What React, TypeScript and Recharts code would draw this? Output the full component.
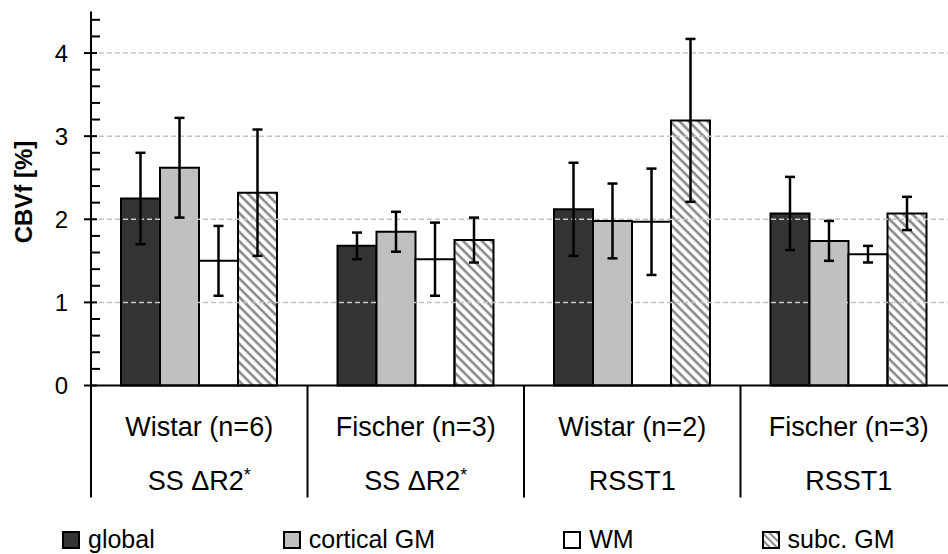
import {
  Bar,
  BarChart,
  ErrorBar,
  Label,
  Legend,
  ReferenceLine,
  XAxis,
  YAxis,
} from "recharts";

const FONT = "'Liberation Sans', Arial, sans-serif";

// category labels (two rows under the axis)
const strains = ["Wistar (n=6)", "Fischer (n=3)", "Wistar (n=2)", "Fischer (n=3)"];
const methods = ["SS ΔR2", "SS ΔR2", "RSST1", "RSST1"];
const methodStars = ["*", "*", "", ""];

// means and error (SD) per region
const globalMean = [2.25, 1.68, 2.12, 2.07];
const globalSd = [0.55, 0.16, 0.56, 0.44];
const corticalMean = [2.62, 1.85, 1.98, 1.74];
const corticalSd = [0.6, 0.24, 0.45, 0.24];
const wmMean = [1.5, 1.52, 1.97, 1.58];
const wmSd = [0.42, 0.44, 0.64, 0.1];
const subcMean = [2.32, 1.75, 3.19, 2.07];
const subcSd = [0.76, 0.27, 0.98, 0.2];

const yTicks = [
  0, 0.2, 0.4, 0.6, 0.8, 1, 1.2, 1.4, 1.6, 1.8, 2, 2.2, 2.4, 2.6, 2.8, 3, 3.2,
  3.4, 3.6, 3.8, 4, 4.2, 4.4,
];
const gridValues = [1, 2, 3, 4];

const series = [
  { key: "global", name: "global", fill: "#333333" },
  { key: "cortical", name: "cortical GM", fill: "#c0c0c0" },
  { key: "wm", name: "WM", fill: "#ffffff" },
  { key: "subc", name: "subc. GM", fill: "url(#hatch)" },
];

const data = strains.map((s, i) => ({
  id: i,
  strain: s,
  global: globalMean[i],
  globalErr: globalSd[i],
  cortical: corticalMean[i],
  corticalErr: corticalSd[i],
  wm: wmMean[i],
  wmErr: wmSd[i],
  subc: subcMean[i],
  subcErr: subcSd[i],
}));

const CHART_W = 980;
const MARGIN = { top: 11.5, right: 23, left: 0, bottom: 56.5 };
const Y_AXIS_W = 91;
const BAND = (CHART_W - MARGIN.left - MARGIN.right - Y_AXIS_W) / strains.length;

const YTick = (props: any) => {
  const { x, y, payload } = props;
  const v = payload.value;
  const major = Math.abs(v - Math.round(v)) < 1e-6;
  if (!major) {
    return <line x1={x} y1={y} x2={x + 9} y2={y} stroke="#000" strokeWidth={2} />;
  }
  return (
    <g>
      <line x1={x - 7} y1={y} x2={x + 6} y2={y} stroke="#000" strokeWidth={2} />
      <text x={x - 23} y={y + 8.5} textAnchor="end" fontSize={24} fontFamily={FONT} fill="#000">
        {Math.round(v)}
      </text>
    </g>
  );
};

const XTick = (props: any) => {
  const { x, y, payload } = props;
  const i = payload.value;
  const left = x - BAND / 2;
  return (
    <g>
      <line x1={left} y1={y} x2={left} y2={y + 112} stroke="#000" strokeWidth={2} />
      <text x={x} y={y + 50} textAnchor="middle" fontSize={27} fontFamily={FONT} fill="#000">
        {strains[i]}
      </text>
      <text x={x} y={y + 104} textAnchor="middle" fontSize={27} fontFamily={FONT} fill="#000">
        {methods[i]}
        {methodStars[i] && (
          <tspan fontSize={18} dy={-9}>
            {methodStars[i]}
          </tspan>
        )}
      </text>
    </g>
  );
};

const renderYLabel = () => (
  <text
    x={32}
    y={192}
    transform="rotate(-90 32 192)"
    textAnchor="middle"
    fontSize={24}
    fontWeight="bold"
    fontFamily={FONT}
    fill="#000"
  >
    CBVf [%]
  </text>
);

const renderLegend = () => (
  <div style={{ display: "flex", alignItems: "center", gap: 128, fontFamily: FONT, fontSize: 25 }}>
    {series.map((s) => (
      <div key={s.key} style={{ display: "flex", alignItems: "center" }}>
        <svg width={18} height={18} style={{ marginRight: 8 }}>
          <defs>
            <pattern id="hatchLegend" patternUnits="userSpaceOnUse" width={5} height={5} patternTransform="rotate(45)">
              <rect width={5} height={2} fill="#8c8c8c" />
            </pattern>
          </defs>
          <rect
            x={1}
            y={1}
            width={16}
            height={16}
            fill={s.key === "subc" ? "url(#hatchLegend)" : s.fill}
            stroke="#000"
            strokeWidth={2}
          />
        </svg>
        <span style={{ color: "#000" }}>{s.name}</span>
      </div>
    ))}
  </div>
);

export default function App() {
  return (
    <div
      style={{
        position: "absolute",
        left: 0,
        top: 0,
        width: 948,
        height: 554,
        overflow: "hidden",
        background: "#fff",
      }}
    >
      <BarChart
        width={CHART_W}
        height={554}
        data={data}
        margin={MARGIN}
        barCategoryGap={30}
        barGap={0}
      >
        <defs>
          <pattern id="hatch" patternUnits="userSpaceOnUse" width={6.6} height={6.6} patternTransform="rotate(45)">
            <rect width={6.6} height={2.6} fill="#8c8c8c" />
          </pattern>
        </defs>
        {gridValues.map((v) => (
          <ReferenceLine key={v} y={v} stroke="#c4c4c4" strokeWidth={1.5} strokeDasharray="5 3" />
        ))}
        <XAxis
          dataKey="id"
          type="category"
          height={112}
          tickSize={0}
          tickMargin={0}
          tick={<XTick />}
          axisLine={{ stroke: "#000", strokeWidth: 2 }}
          interval={0}
        />
        <YAxis
          width={Y_AXIS_W}
          domain={[0, 4.5]}
          ticks={yTicks}
          interval={0}
          tickSize={0}
          tickMargin={0}
          tick={<YTick />}
          axisLine={{ stroke: "#000", strokeWidth: 2 }}
        >
          <Label content={renderYLabel} />
        </YAxis>
        {series.map((s) => (
          <Bar
            key={s.key}
            dataKey={s.key}
            name={s.name}
            fill={s.fill}
            stroke="#000"
            strokeWidth={2}
            isAnimationActive={false}
          >
            <ErrorBar dataKey={`${s.key}Err`} width={5} stroke="#000" strokeWidth={2.5} />
          </Bar>
        ))}
        <Legend
          layout="horizontal"
          verticalAlign="middle"
          align="center"
          content={renderLegend}
          wrapperStyle={{ top: 525, left: 62, width: 900 }}
        />
      </BarChart>
    </div>
  );
}
